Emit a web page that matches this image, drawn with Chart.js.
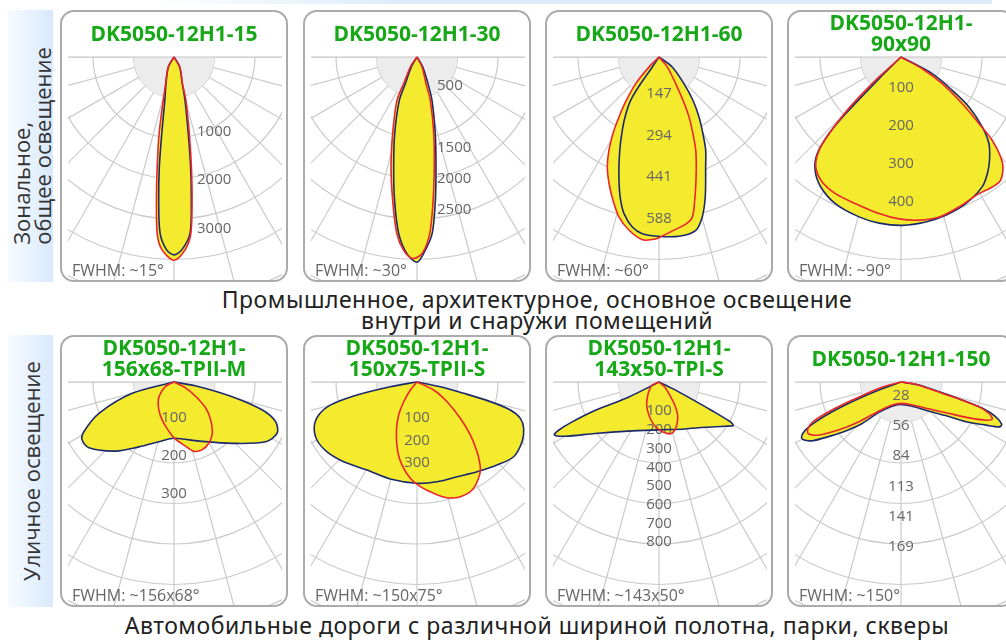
<!DOCTYPE html>
<html>
<head>
<meta charset="utf-8">
<script src="https://cdn.jsdelivr.net/npm/chart.js@4/dist/chart.umd.min.js"></script>
<style>
body { margin:0; width:1006px; height:640px; overflow:hidden; background:#fff; position:relative; font-family:"Open Sans", sans-serif; }
.topbar { position:absolute; left:150px; top:0; width:842px; height:4px; background:linear-gradient(to right, rgba(220,236,252,0), #dcecfb 30%); }
.strip { position:absolute; left:8px; width:45px; height:272px; background:linear-gradient(to right, #f7fbff, #d8e9fb); }
.vt { position:absolute; left:50%; top:50%; width:272px; height:45px; transform:translate(-50%,-50%) rotate(-90deg); display:flex; align-items:center; justify-content:center; }
.vt div { text-align:left; font-size:22px; line-height:21px; color:#333; white-space:nowrap; }
.panel { position:absolute; width:228px; height:272px; }
.panel canvas { position:absolute; left:0; top:0; }
.frame { position:absolute; left:0; top:0; width:228px; height:272px; border:2px solid #ababab; border-radius:14px; box-sizing:border-box; }
.title { position:absolute; left:0; width:228px; text-align:center; color:#17a817; font-weight:700; font-size:21px; line-height:21px; white-space:nowrap; }
.fwhm { position:absolute; left:12px; top:250px; color:#666; font-size:16px; line-height:20px; white-space:nowrap; }
.caption { position:absolute; left:37px; width:1000px; text-align:center; color:#222; font-family:"Noto Sans", sans-serif; font-size:23px; letter-spacing:0.5px; line-height:21px; white-space:nowrap; }
</style>
</head>
<body>
<div class="topbar"></div>
<div class="strip" style="top:10px"><div class="vt"><div>Зональное,<br>общее освещение</div></div></div>
<div class="strip" style="top:335px"><div class="vt"><div>Уличное освещение</div></div></div>
<div class="caption" style="top:289px">Промышленное, архитектурное, основное освещение<br>внутри и снаружи помещений</div>
<div class="caption" style="top:615px">Автомобильные дороги с различной шириной полотна, парки, скверы</div>

<script>
// кривые силы света: [угол от надира, град; сила света]
const p1Red  = [[-45,0],[-30,240],[-17.5,580],[-14,910],[-11,1610],[-8.7,2290],[-7,2970],[-5.4,3670],[-3.6,3980],[0,4190],[3.3,3980],[5.4,3670],[7.2,2970],[9,2290],[11.3,1610],[15.5,910],[17.5,580],[30,240],[45,0]];
const p1Navy = [[-45,0],[-30,230],[-17,560],[-12,910],[-9.1,1590],[-7.6,2290],[-6.1,2970],[-4.5,3650],[-2.2,3980],[0,4080],[2.3,3980],[5.2,3650],[6.9,2970],[8.6,2290],[10.6,1590],[14.3,910],[17.5,560],[30,230],[45,0]];

const p2Red  = [[-45,0],[-34,190],[-26.5,480],[-24.8,770],[-17.6,1300],[-13.3,1820],[-9.6,2350],[-6.5,2870],[-3.9,3130],[-1.2,3250],[1.5,3170],[4.1,2860],[6.4,2330],[8.9,1800],[12.3,1270],[17.1,730],[18.6,455],[27,180],[40,0]];
const p2Navy = [[-40,0],[-30,180],[-23.7,470],[-22.2,755],[-16.2,1290],[-12,1810],[-8.9,2340],[-5.9,2865],[-2.9,3180],[0,3310],[1.9,3175],[4.9,2860],[7.3,2330],[9.8,1800],[13.4,1270],[19.1,740],[22.4,465],[30,180],[40,0]];

const p3Red  = [[-60,0],[-45,49],[-41.1,124],[-37,191],[-33.7,253],[-31,314],[-28.2,372],[-25.2,426],[-21.5,478],[-17.8,528],[-14,579],[-9.8,617],[-5.2,644],[-2.1,641],[0,634],[4.4,612],[9.1,594],[11.8,573],[14,518],[16.2,463],[18.7,408],[21.5,352],[23.9,294],[26.6,235],[29,174],[32,111],[39.8,46],[55,0]];
const p3Navy = [[-50,0],[-33.7,42],[-34.5,114],[-33.2,181],[-29.5,242],[-25.9,299],[-22.8,355],[-20,411],[-17.5,466],[-15,520],[-12.6,563],[-8.9,604],[-5.4,623],[-0.5,629],[6.4,633],[12,622],[15.1,582],[17.8,528],[20.2,474],[23,419],[26.6,366],[29.8,310],[33.7,253],[38.1,193],[43.1,128],[53,58],[65,0]];

const p4Red  = [[-50,0],[-47.7,78],[-46.5,140],[-45.2,205],[-43.2,277],[-41.3,327],[-37.8,366],[-32.2,389],[-25.5,399],[-17.2,404],[-8,416],[-0.7,426],[6.3,432],[13.4,433],[21.1,423],[29.7,414],[35.1,418],[38.9,417],[42.8,395],[44.9,372],[47.6,325],[49.5,270],[52.7,203],[57.1,129],[61.2,64],[65,0]];
const p4Navy = [[-48,0],[-45.4,81],[-44.3,208],[-43.2,277],[-40.9,337],[-37.2,374],[-31.7,402],[-24,423],[-14.7,435],[-7.5,441],[0.5,443],[8.5,439],[15.8,433],[23.8,422],[32,403],[36.5,382],[40.6,358],[45.4,325],[49.3,282],[53.7,222],[57,161],[61.9,93],[66,0]];

const p5Red  = [[-70,0],[-62.6,25],[-46.4,54],[-32.9,76],[-21.2,97],[-10.6,119],[0,147],[10.3,172],[16.1,190],[22.7,193],[29.8,185],[36.9,168],[44.2,138],[50.6,108],[56.6,68],[62.9,34],[70,0]];
const p5Navy = [[-80,0],[-74.8,114],[-67.3,214],[-61.1,271],[-57.7,286],[-52.3,283],[-40.2,238],[-28.4,194],[-14.1,162],[0,148],[23,169],[43.6,223],[56.9,288],[63.6,303],[68.7,287],[72.4,244],[75.8,158],[79.4,67],[82,0]];

const p6Red  = [[-45,0],[-39.8,46],[-34,106],[-29,168],[-22.6,239],[-15.5,321],[-10.2,375],[-4,429],[1.8,465],[8.5,500],[14.5,531],[20.7,545],[27,539],[32.6,508],[36.3,476],[40.7,409],[45.2,334],[50,251],[56.7,160],[64.4,82],[75,0]];
const p6Navy = [[-82,0],[-80,120],[-77.8,273],[-75.1,399],[-71.4,461],[-66.5,498],[-59.9,514],[-52.2,506],[-42.6,481],[-29.6,450],[-15.4,447],[0,450],[11.3,452],[22.9,457],[33.8,480],[43.9,512],[52.3,543],[60.4,537],[66.5,517],[70.6,487],[73.3,433],[75,337],[76.4,214],[78.6,106],[81,0]];

const p7Red  = [[-75,0],[-64.4,43],[-39.9,94],[-27.6,142],[-16.6,187],[-7.8,226],[1.2,259],[10.2,282],[15.9,279],[22.1,251],[29.2,205],[34.2,152],[39.2,93],[49.1,42],[60,0]];
const p7Navy = [[-64,0],[-63.7,183],[-66,375],[-65.3,514],[-64.3,598],[-63.2,627],[-60,580],[-51.2,439],[-32,310],[0,256],[29,287],[45.5,345],[56.2,425],[59.7,460],[60.9,434],[61.6,320],[62.6,176],[64,75],[64,0]];

const p8Red  = [[-76,0],[-74,21],[-69.7,48],[-67.6,73],[-65.6,91],[-62.9,98],[-60.6,99],[-57.1,91],[-52.3,73],[-46.6,54],[-37.2,34],[-20.7,23],[0,20],[26.2,24],[46,36],[56.9,54],[62.3,72],[65.8,87],[67.9,92],[70.4,87],[72.4,76],[73.7,56],[75.5,33],[81.1,14],[85,0]];
const p8Navy = [[-72,0],[-70,22],[-68.3,45],[-66.6,70],[-65,88],[-63.3,100],[-61.2,106],[-59.4,106],[-56.4,99],[-52.8,84],[-48.5,69],[-43.1,53],[-36,35],[-20.2,24],[-0.8,21],[24.6,25],[44,38],[53,52],[58.5,71],[63.1,89],[65.5,101],[67.2,102],[69.9,94],[72.1,80],[73.6,60],[75.7,37],[80.5,17],[84,0]];

// подписи шкал
const p1Ticks = [1000, 2000, 3000];
const p2Ticks = [500, 1500, 2000, 2500];
const p3Ticks = [147, 294, 441, 588];
const p4Ticks = [100, 200, 300, 400];
const p5Ticks = [100, 200, 300];
const p6Ticks = [100, 200, 300];
const p7Ticks = [100, 200, 300, 400, 500, 600, 700, 800];
const p8Ticks = [28, 56, 84, 113, 141, 169];

const titles = [
  ['DK5050-12H1-15'], ['DK5050-12H1-30'], ['DK5050-12H1-60'], ['DK5050-12H1-', '90x90'],
  ['DK5050-12H1-', '156x68-TPII-M'], ['DK5050-12H1-', '150x75-TPII-S'], ['DK5050-12H1-', '143x50-TPI-S'], ['DK5050-12H1-150']
];
const fwhm = ['FWHM: ~15°', 'FWHM: ~30°', 'FWHM: ~60°', 'FWHM: ~90°', 'FWHM: ~156x68°', 'FWHM: ~150x75°', 'FWHM: ~143x50°', 'FWHM: ~150°'];

// расположение и масштаб каждой панели (k - пикселей на единицу)
const panels = [
  {left: 60,  top: 10,  k: 0.0485, shift: 26,   dx: 23, align: 'left',   ticks: p1Ticks, red: p1Red, navy: p1Navy},
  {left: 303, top: 10,  k: 0.062,  shift: -2,   dx: 20, align: 'left',   ticks: p2Ticks, red: p2Red, navy: p2Navy},
  {left: 545, top: 10,  k: 0.285,  shift: -5.5, dx: 0,  align: 'center', ticks: p3Ticks, red: p3Red, navy: p3Navy},
  {left: 787, top: 10,  k: 0.38,   shift: -7,   dx: 0,  align: 'center', ticks: p4Ticks, red: p4Red, navy: p4Navy},
  {left: 60,  top: 335, k: 0.38,   shift: -2,   dx: 0,  align: 'center', ticks: p5Ticks, red: p5Red, navy: p5Navy},
  {left: 303, top: 335, k: 0.225,  shift: 13.5, dx: 0,  align: 'center', ticks: p6Ticks, red: p6Red, navy: p6Navy},
  {left: 545, top: 335, k: 0.187,  shift: 10.5, dx: 0,  align: 'center', ticks: p7Ticks, red: p7Red, navy: p7Navy},
  {left: 787, top: 335, k: 1.071,  shift: -16,  dx: 0,  align: 'center', ticks: p8Ticks, red: p8Red, navy: p8Navy}
];

const W = 228, H = 272, CX = 114, CY = 47;
const RING = 40.5;

// полярные координаты -> декартовы
function toXY(pts) {
  return pts.map(([deg, v]) => {
    const a = deg * Math.PI / 180;
    return {x: v * Math.sin(a), y: -v * Math.cos(a)};
  });
}

// сетка полярной диаграммы
const polarGrid = {
  id: 'polarGrid',
  beforeDraw(chart) {
    const ctx = chart.ctx;
    const cx = chart.scales.x.getPixelForValue(0);
    const cy = chart.scales.y.getPixelForValue(0);
    ctx.save();
    ctx.beginPath();
    ctx.rect(8, cy, chart.width - 14, chart.height - cy - 2);
    ctx.clip();
    ctx.strokeStyle = '#cacaca';
    ctx.lineWidth = 1.2;
    for (let a = -90; a <= 90; a += 15) {
      const r = a * Math.PI / 180;
      ctx.beginPath();
      ctx.moveTo(cx, cy);
      ctx.lineTo(cx + 400 * Math.sin(r), cy + 400 * Math.cos(r));
      ctx.stroke();
    }
    for (let i = 1; i <= 7; i++) {
      ctx.beginPath();
      ctx.arc(cx, cy, i * RING, 0, Math.PI);
      ctx.stroke();
    }
    ctx.fillStyle = '#ececec';
    ctx.beginPath();
    ctx.arc(cx, cy, RING, 0, Math.PI);
    ctx.fill();
    ctx.restore();
    ctx.save();
    ctx.strokeStyle = '#c4c4c4';
    ctx.lineWidth = 1.2;
    ctx.beginPath();
    ctx.moveTo(8, cy);
    ctx.lineTo(chart.width - 6, cy);
    ctx.stroke();
    ctx.restore();
  }
};

// подписи значений по вертикальной оси
const tickLabels = {
  id: 'tickLabels',
  beforeDatasetsDraw(chart, args, opts) {
    const ctx = chart.ctx;
    const cx = chart.scales.x.getPixelForValue(0);
    ctx.save();
    ctx.font = '15px "Open Sans"';
    ctx.fillStyle = '#666';
    ctx.textBaseline = 'middle';
    ctx.textAlign = opts.align;
    opts.ticks.forEach(v => {
      ctx.fillText(String(v), cx + opts.dx, chart.scales.y.getPixelForValue(-v) + opts.shift);
    });
    ctx.restore();
  }
};

panels.forEach((p, i) => {
  const box = document.createElement('div');
  box.className = 'panel';
  box.style.left = p.left + 'px';
  box.style.top = p.top + 'px';
  const canvas = document.createElement('canvas');
  canvas.width = W;
  canvas.height = H;
  box.appendChild(canvas);

  const t = document.createElement('div');
  t.className = 'title';
  t.style.top = (titles[i].length > 1 ? 1.5 : 12.5) + 'px';
  t.innerHTML = titles[i].join('<br>');
  box.appendChild(t);

  const f = document.createElement('div');
  f.className = 'fwhm';
  f.textContent = fwhm[i];
  box.appendChild(f);

  const frame = document.createElement('div');
  frame.className = 'frame';
  box.appendChild(frame);
  document.body.appendChild(box);

  const line = (data, color) => ({
    data: toXY(data),
    showLine: true,
    borderColor: color,
    borderWidth: 1.6,
    backgroundColor: '#f5eb2e',
    fill: 'shape',
    tension: 0.3,
    pointRadius: 0,
    clip: false
  });

  new Chart(canvas, {
    type: 'scatter',
    data: { datasets: [line(p.red, '#e8262b'), line(p.navy, '#1c2a6c')] },
    options: {
      responsive: false,
      animation: false,
      layout: { padding: 0 },
      events: [],
      scales: {
        x: { type: 'linear', display: false, min: -CX / p.k, max: (W - CX) / p.k },
        y: { type: 'linear', display: false, min: -(H - CY) / p.k, max: CY / p.k }
      },
      plugins: {
        legend: { display: false },
        tooltip: { enabled: false },
        filler: { drawTime: 'beforeDatasetsDraw' },
        tickLabels: { ticks: p.ticks, shift: p.shift, dx: p.dx, align: p.align }
      }
    },
    plugins: [polarGrid, tickLabels]
  });
});
</script>
</body>
</html>
